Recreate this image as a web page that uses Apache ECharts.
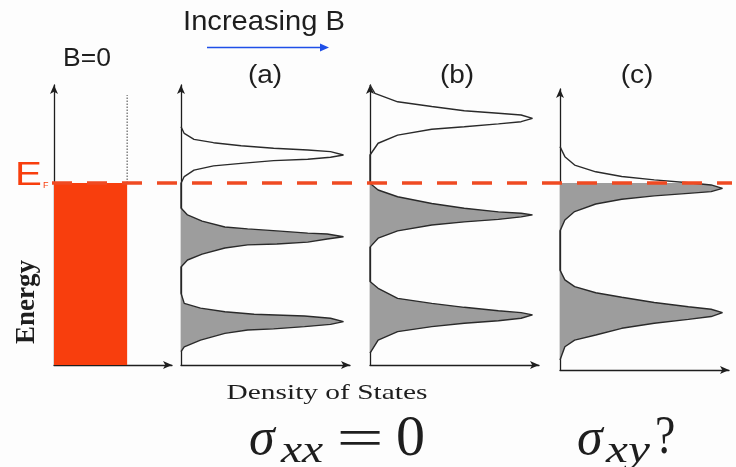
<!DOCTYPE html>
<html>
<head>
<meta charset="utf-8">
<title>Landau levels and the Fermi energy</title>
<script src="https://cdn.jsdelivr.net/npm/echarts@6/dist/echarts.min.js"></script>
<style>
  html, body { margin: 0; padding: 0; background: #fdfdfd; }
  #chart { width: 736px; height: 467px; }
</style>
</head>
<body>
<div id="chart"></div>
<script>
// Fermi energy (same energy units on every panel)
const fermiEnergy = 6.5;

// B = 0: flat density of states, filled up to the Fermi energy
const flatDensity = 0.45;
const flatTop = 9.64;

// Panel (a): density of states vs energy, listed from high to low energy
const energyA = [8.51, 8.27, 8.06, 7.94, 7.83, 7.74, 7.68, 7.62, 7.50, 7.42, 7.35, 7.30, 7.20, 7.11, 6.96, 6.73, 6.49,
                 5.61, 5.36, 5.14, 4.93, 4.86, 4.79, 4.71, 4.68, 4.58, 4.50, 4.39, 4.32, 4.29, 4.18, 3.96, 3.75, 3.50,
                 2.56, 2.20, 2.03, 1.90, 1.81, 1.75, 1.67, 1.55, 1.45, 1.37, 1.29, 1.25, 1.13, 0.89, 0.65, 0.48];
const densityA = [0, 0.02, 0.08, 0.20, 0.37, 0.57, 0.78, 0.92, 1.00, 0.92, 0.78, 0.57, 0.37, 0.20, 0.08, 0.02, 0,
                  0, 0.04, 0.13, 0.27, 0.41, 0.59, 0.78, 0.90, 1.00, 0.90, 0.78, 0.59, 0.41, 0.27, 0.13, 0.04, 0,
                  0, 0.02, 0.12, 0.27, 0.45, 0.76, 0.92, 1.00, 0.92, 0.76, 0.57, 0.41, 0.27, 0.12, 0.02, 0];

// Panel (b)
const energyB = [10.0, 9.70, 9.40, 9.23, 9.08, 8.99, 8.93, 8.81, 8.69, 8.61, 8.51, 8.42, 8.21, 7.92, 7.50,
                 6.49, 6.25, 6.01, 5.77, 5.60, 5.47, 5.42, 5.36, 5.29, 5.20, 5.11, 5.00, 4.79, 4.53, 4.21,
                 2.98, 2.74, 2.38, 2.20, 2.06, 1.94, 1.87, 1.79, 1.67, 1.58, 1.49, 1.37, 1.19, 0.89, 0.42];
const densityB = [0, 0.03, 0.17, 0.38, 0.58, 0.79, 0.93, 1.00, 0.93, 0.79, 0.58, 0.38, 0.17, 0.05, 0,
                  0, 0.05, 0.17, 0.38, 0.58, 0.79, 0.93, 1.00, 0.93, 0.79, 0.58, 0.38, 0.17, 0.05, 0,
                  0, 0.05, 0.17, 0.38, 0.58, 0.79, 0.93, 1.00, 0.93, 0.79, 0.58, 0.38, 0.17, 0.05, 0];

// Panel (c)
const energyC = [7.80, 7.44, 7.14, 6.90, 6.73, 6.61, 6.51, 6.43, 6.31, 6.19, 6.13, 6.04, 5.92, 5.75, 5.48, 5.18, 4.79,
                 3.39, 3.04, 2.80, 2.58, 2.42, 2.23, 2.08, 1.99, 1.87, 1.73, 1.63, 1.49, 1.31, 1.07, 0.89, 0.65, 0.18];
const densityC = [0, 0.03, 0.09, 0.22, 0.38, 0.58, 0.79, 0.93, 1.00, 0.93, 0.79, 0.58, 0.38, 0.22, 0.09, 0.03, 0,
                  0, 0.03, 0.09, 0.22, 0.38, 0.58, 0.79, 0.93, 1.00, 0.93, 0.79, 0.58, 0.38, 0.22, 0.09, 0.03, 0];

const panelLabels = ['(a)', '(b)', '(c)'];

const INK = '#1e1e1e';
const RED = '#f83e0d';
const DASH_RED = '#ef4a22';
const FILL_GRAY = '#9d9d9d';

function pairs(energy, density) {
  return energy.map((e, i) => [density[i], e]);
}

// Gray area between the axis and the curve, only below the Fermi energy
function occupiedFill(points) {
  return function (params, api) {
    if (params.dataIndex !== 0) return null;
    const cs = params.coordSys;
    const pix = points.map(p => api.coord(p));
    const first = points[0], last = points[points.length - 1];
    pix.unshift(api.coord([0, first[1]]));
    pix.push(api.coord([0, last[1]]));
    const yF = api.coord([0, fermiEnergy])[1];
    return {
      type: 'polygon',
      shape: { points: pix },
      style: { fill: FILL_GRAY, stroke: null },
      clipPath: {
        type: 'rect',
        shape: { x: cs.x - 2, y: yF, width: cs.width + 10, height: cs.y + cs.height - yF }
      }
    };
  };
}

const axisArrow = {
  show: true,
  onZero: false,
  symbol: ['none', 'arrow'],
  symbolSize: [6, 9],
  lineStyle: { color: INK, width: 1.3 }
};

function xAxisFor(gridIndex, max, show) {
  return {
    type: 'value', gridIndex, min: 0, max,
    axisLine: show ? axisArrow : { show: false },
    axisTick: { show: false }, axisLabel: { show: false }, splitLine: { show: false }
  };
}
function yAxisFor(gridIndex, min, max, show) {
  return {
    type: 'value', gridIndex, min, max,
    axisLine: show ? axisArrow : { show: false },
    axisTick: { show: false }, axisLabel: { show: false }, splitLine: { show: false }
  };
}

const chart = echarts.init(document.getElementById('chart'), null, { renderer: 'canvas' });

const curves = [pairs(energyA, densityA), pairs(energyB, densityB), pairs(energyC, densityC)];

const series = [];

// B = 0 panel: red block of filled states and dotted edge above E_F
series.push({
  type: 'line', xAxisIndex: 0, yAxisIndex: 0,
  data: [[0, fermiEnergy], [flatDensity, fermiEnergy]],
  showSymbol: false, silent: true,
  lineStyle: { width: 0, color: RED },
  areaStyle: { color: RED, opacity: 1 },
  z: 2
});
series.push({
  type: 'line', xAxisIndex: 0, yAxisIndex: 0,
  data: [[flatDensity, fermiEnergy], [flatDensity, flatTop]],
  showSymbol: false, silent: true,
  lineStyle: { width: 1, color: '#444', type: [1.5, 1.5] },
  z: 2
});

curves.forEach((pts, k) => {
  const idx = k + 1;
  series.push({
    type: 'custom', xAxisIndex: idx, yAxisIndex: idx,
    data: pts, renderItem: occupiedFill(pts), silent: true, z: 1
  });
  series.push({
    type: 'line', xAxisIndex: idx, yAxisIndex: idx,
    data: pts, showSymbol: false, silent: true,
    lineStyle: { color: '#2a2a2a', width: 1.4 },
    z: 3
  });
});

// Fermi level across all panels
series.push({
  type: 'line', xAxisIndex: 4, yAxisIndex: 4,
  data: [[0, fermiEnergy], [1, fermiEnergy]],
  showSymbol: false, silent: true,
  lineStyle: { color: DASH_RED, width: 3.5, type: [20, 15], cap: 'butt' },
  z: 10
});

// Text placed by its vertical middle
function label(text, x, y, font, opts) {
  opts = opts || {};
  return Object.assign({
    type: 'text', x, y, silent: true,
    style: Object.assign({ text, x: 0, y: 0, font, fill: INK, textAlign: 'center', textVerticalAlign: 'middle' }, opts.style || {})
  }, opts.el || {});
}

const sansFont = '"Liberation Sans", Arial, sans-serif';
const serifFont = '"Liberation Serif", "Times New Roman", serif';
const left = { textAlign: 'left' };

const graphics = [
  label('Increasing B', 264, 22, '28px ' + sansFont, { el: { scaleX: 1.04 } }),
  { type: 'line', silent: true, shape: { x1: 207, y1: 47.5, x2: 322, y2: 47.5 }, style: { stroke: '#1f4fe8', lineWidth: 1.6 } },
  { type: 'polygon', silent: true, shape: { points: [[320, 43.5], [329, 47.5], [320, 51.5]] }, style: { fill: '#1f4fe8' } },
  label('B=0', 87, 59, '25px ' + sansFont, { el: { scaleX: 1.06 } }),
  label(panelLabels[0], 265, 76, '25px ' + sansFont, { el: { scaleX: 1.12 } }),
  label(panelLabels[1], 457, 76, '25px ' + sansFont, { el: { scaleX: 1.12 } }),
  label(panelLabels[2], 637, 76, '25px ' + sansFont, { el: { scaleX: 1.12 } }),
  label('E', 15, 176, '33px ' + sansFont, { style: { fill: RED, textAlign: 'left' }, el: { scaleX: 1.22 } }),
  label('F', 43, 186, '9px ' + sansFont, { style: { fill: RED, textAlign: 'left' } }),
  label('Energy', 27, 302, 'bold 27px ' + serifFont, { el: { rotation: Math.PI / 2 } }),
  label('Density of States', 327, 393, '21px ' + serifFont, { el: { scaleX: 1.4 } }),
  // sigma_xx = 0
  label('σ', 249, 440, 'italic 52px ' + serifFont, { style: left }),
  label('xx', 281, 452, 'italic 38px ' + serifFont, { style: left, el: { scaleX: 1.25 } }),
  label('=', 360, 442, '54px ' + serifFont, { el: { scaleX: 1.55 } }),
  label('0', 396, 440, '58px ' + serifFont, { style: left }),
  // sigma_xy ?
  label('σ', 577, 440, 'italic 52px ' + serifFont, { style: left }),
  label('xy', 606, 452, 'italic 38px ' + serifFont, { style: left, el: { scaleX: 1.3 } }),
  label('?', 655, 439, '54px ' + serifFont, { style: left, el: { scaleX: 0.85 } })
];

chart.setOption({
  backgroundColor: '#fdfdfd',
  animation: false,
  grid: [
    { left: 54, top: 85, width: 118, height: 280 },
    { left: 181, top: 85, width: 169, height: 280 },
    { left: 370, top: 85, width: 169, height: 280 },
    { left: 560, top: 89, width: 169, height: 281 },
    { left: 52, top: 85, width: 680, height: 280 }
  ],
  xAxis: [
    xAxisFor(0, 0.726, true),
    xAxisFor(1, 1.04, true),
    xAxisFor(2, 1.04, true),
    xAxisFor(3, 1.04, true),
    xAxisFor(4, 1, false)
  ],
  yAxis: [
    yAxisFor(0, 0, 10, true),
    yAxisFor(1, 0, 10, true),
    yAxisFor(2, 0, 10, true),
    yAxisFor(3, -0.179, 9.857, true),
    yAxisFor(4, 0, 10, false)
  ],
  series,
  graphic: graphics
});
</script>
</body>
</html>
